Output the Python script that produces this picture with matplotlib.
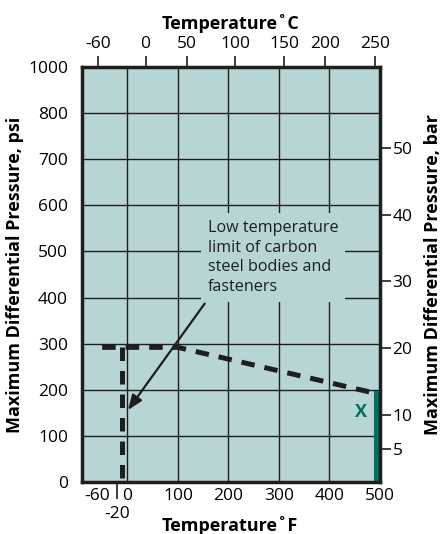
import numpy as np
import matplotlib
matplotlib.use('Agg')
import matplotlib.pyplot as plt

plt.rcParams['font.family'] = ['Open Sans', 'DejaVu Sans']

# Limit curve (deg F, psi)
limit_f = [-50, 100, 500]
limit_psi = [292, 292, 190]

# Low temperature limit of carbon steel (deg F)
low_f = [-10, -10]
low_psi = [292, 0]

# Green region at 500 F
bar_f = 496
bar_psi = 197

# Axis ticks
psi_ticks = [0, 100, 200, 300, 400, 500, 600, 700, 800, 900]
psi_labels = ['0', '100', '200', '300', '400', '500', '600', '700', '800', '1000']
f_ticks = [-60, 0, 100, 200, 300, 400, 500]
f_grid = [0, 100, 200, 300, 400]
c_ticks_f = [-58, 36, 117, 213, 310, 391, 490]
c_labels = ['-60', '0', '50', '100', '150', '200', '250']
bar_ticks = [5, 10, 20, 30, 40, 50]

bg = '#b7d5d4'
green = '#00705f'
dark = '#1e1e1e'

fig = plt.figure(figsize=(4.47, 5.34), dpi=100)
ax = fig.add_axes([0.1834, 0.0974, 0.8501 - 0.1834, 0.8745 - 0.0974])
ax.set_facecolor(bg)
ax.set_xlim(-90, 500)
ax.set_ylim(0, 900)

# Grid
for x in f_grid:
    ax.axvline(x, color=dark, lw=1.0, zorder=1)
for y in psi_ticks[1:-1]:
    ax.axhline(y, color=dark, lw=1.0, zorder=1)

# Curves
ax.plot(limit_f, limit_psi, color=dark, lw=3.6, dashes=(2.7, 2.0), zorder=3)
ax.plot(low_f, low_psi, color=dark, lw=3.6, dashes=(2.7, 2.0), zorder=3)
ax.bar([bar_f], [bar_psi], width=14, color=green, zorder=4)
ax.text(462, 152, 'X', color=green, fontsize=13, fontweight='bold',
        ha='center', va='center', zorder=5)

# Annotation
ax.text(159, 568, 'Low temperature\nlimit of carbon\nsteel bodies and\nfasteners',
        fontsize=11.6, color=dark, ha='left', va='top', linespacing=1.3,
        bbox=dict(facecolor=bg, edgecolor='none', pad=5), zorder=2)
ax.annotate('', xy=(1, 156), xytext=(153, 387),
            arrowprops=dict(arrowstyle='-|>,head_length=0.9,head_width=0.35',
                            color=dark, lw=1.6, shrinkA=0, shrinkB=0),
            zorder=5)

# Spines
for s in ax.spines.values():
    s.set_linewidth(2.5)
    s.set_color(dark)
    s.set_zorder(6)

# Left axis
ax.set_yticks(psi_ticks)
ax.set_yticklabels(psi_labels)
ax.tick_params(axis='y', length=0, pad=10, labelsize=12.5)
ax.set_ylabel('Maximum Differential Pressure, psi', fontsize=13,
              fontweight='bold', labelpad=3)

# Bottom axis
ax.set_xticks(f_ticks)
ax.set_xticklabels([str(v) for v in f_ticks])
ax.tick_params(axis='x', length=0, pad=4, labelsize=12.5)
ax.set_xticks([-20], minor=True)
ax.set_xticklabels(['-20'], minor=True)
ax.tick_params(axis='x', which='minor', length=12.5, width=1.2, pad=5,
               labelsize=12.5, color=dark)
ax.set_xlabel('Temperature˚F', fontsize=13, fontweight='bold')
ax.xaxis.set_label_coords(0.495, -0.083)

# Top axis (deg C)
top = ax.secondary_xaxis('top')
top.set_xticks(c_ticks_f)
top.set_xticklabels(c_labels)
top.tick_params(length=8, width=1.2, pad=3, labelsize=12.5, color=dark)
top.set_xlabel('Temperature˚C', fontsize=13, fontweight='bold', labelpad=5)

# Right axis (bar)
right = ax.secondary_yaxis('right', functions=(lambda p: p / 14.5, lambda b: b * 14.5))
right.set_yticks(bar_ticks)
right.tick_params(length=8, width=1.2, pad=1, labelsize=12.5, color=dark)
right.set_ylabel('Maximum Differential Pressure, bar', fontsize=13,
                 fontweight='bold', labelpad=8)
right.spines['right'].set_visible(False)

fig.savefig('out.png', dpi=100)
